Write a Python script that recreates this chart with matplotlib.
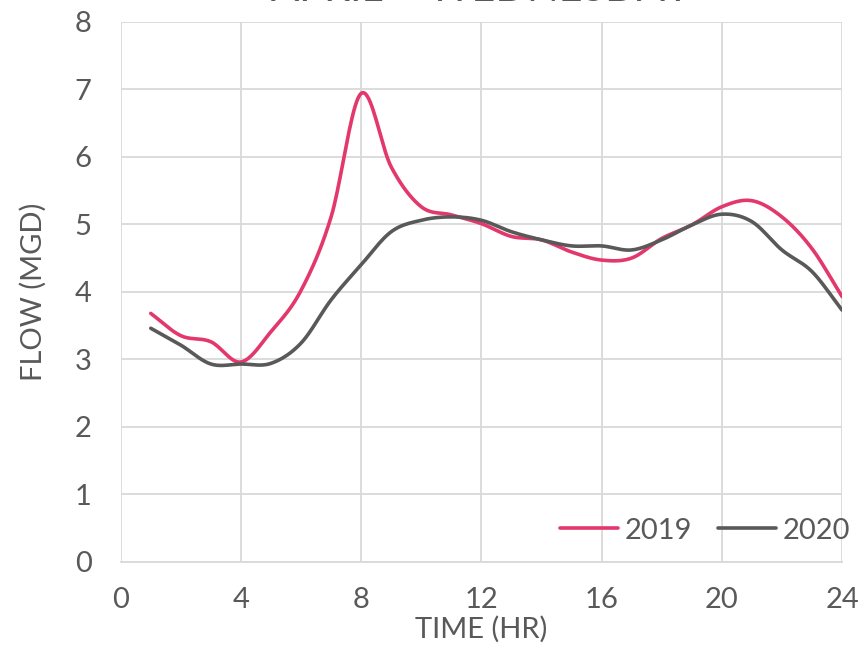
"""April weekday diurnal flow, 2019 vs 2020 (smoothed hourly curves)."""
import matplotlib

matplotlib.use("Agg")
import matplotlib.pyplot as plt
import numpy as np

HOURS = list(range(1, 25))
FLOW_2019 = [3.68, 3.35, 3.26, 2.96, 3.41, 4.02, 5.11, 6.94, 5.85, 5.26, 5.14, 5.01,
             4.82, 4.77, 4.59, 4.47, 4.50, 4.79, 4.99, 5.26, 5.35, 5.11, 4.64, 3.93]
FLOW_2020 = [3.46, 3.21, 2.93, 2.93, 2.94, 3.24, 3.88, 4.40, 4.89, 5.06, 5.11, 5.06,
             4.89, 4.77, 4.68, 4.68, 4.62, 4.77, 4.99, 5.15, 5.04, 4.62, 4.30, 3.73]
SERIES = ["2019", "2020"]
COLORS = ["#E3386C", "#595959"]
XTICKS = [0, 4, 8, 12, 16, 20, 24]
TITLE = "APRIL \u2013 WEDNESDAY"

TXT = "#595959"
GRID = "#D9D9D9"
plt.rcParams["font.family"] = ["Lato", "DejaVu Sans"]


def smooth(x, y, n=20):
    # catmull-rom through the points, roughly what Excel's "smoothed line" does
    x = np.asarray(x, float); y = np.asarray(y, float)
    px = np.concatenate([[2 * x[0] - x[1]], x, [2 * x[-1] - x[-2]]])
    py = np.concatenate([[2 * y[0] - y[1]], y, [2 * y[-1] - y[-2]]])
    xs, ys = [], []
    t = np.linspace(0, 1, n, endpoint=False)
    for i in range(1, len(px) - 2):
        for p, out in ((px, xs), (py, ys)):
            p0, p1, p2, p3 = p[i - 1], p[i], p[i + 1], p[i + 2]
            out.append(0.5 * (2 * p1 + (-p0 + p2) * t + (2 * p0 - 5 * p1 + 4 * p2 - p3) * t ** 2
                              + (-p0 + 3 * p1 - 3 * p2 + p3) * t ** 3))
    xs.append([x[-1]]); ys.append([y[-1]])
    return np.concatenate(xs), np.concatenate(ys)


fig = plt.figure(figsize=(8.66, 6.57), dpi=100)
ax = fig.add_axes([0.1394, 0.1449, 0.8329, 0.8219])

for name, vals, c in zip(SERIES, [FLOW_2019, FLOW_2020], COLORS):
    sx, sy = smooth(HOURS, vals)
    ax.plot(sx, sy, color=c, lw=2.6, label=name, solid_capstyle="round")

ax.set_xlim(0, 24); ax.set_ylim(0, 8)
ax.set_xticks(XTICKS); ax.set_yticks(range(0, 9))
ax.grid(True, color=GRID, lw=1.3)
ax.set_axisbelow(True)
for s in ("top", "right", "left"):
    ax.spines[s].set_visible(False)
ax.spines["bottom"].set_color(GRID); ax.spines["bottom"].set_linewidth(1.3)
ax.tick_params(length=0, labelsize=21, labelcolor=TXT)
ax.tick_params(axis="x", pad=18)
ax.tick_params(axis="y", pad=21)
ax.set_xlabel("TIME (HR)", fontsize=21, color=TXT, labelpad=2)
ax.set_ylabel("FLOW (MGD)", fontsize=21, color=TXT, labelpad=20)

leg = ax.legend(loc="lower right", ncol=2, frameon=False, fontsize=21, labelcolor=TXT,
                handlelength=2.0, handletextpad=0.2, columnspacing=0.9,
                bbox_to_anchor=(1.047, -0.015))

fig.text(0.555, 0.9985, TITLE, ha="center", va="baseline", fontsize=30,
         color=TXT)

fig.savefig("out.png", dpi=100)
